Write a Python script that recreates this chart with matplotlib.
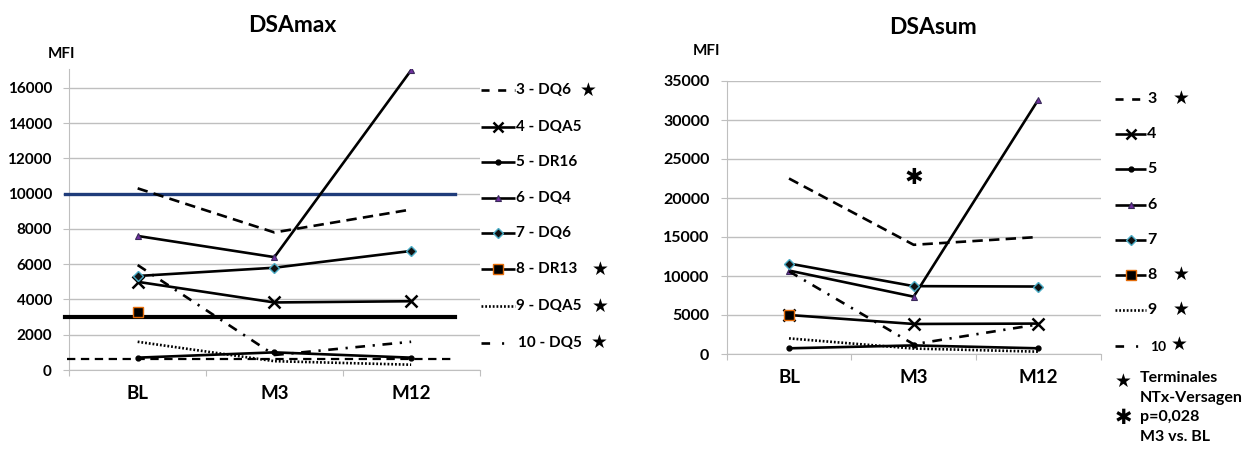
import numpy as np
import matplotlib
matplotlib.use("Agg")
import matplotlib.pyplot as plt
from matplotlib.lines import Line2D

plt.rcParams['font.family'] = ['Lato', 'DejaVu Sans']
plt.rcParams['lines.scale_dashes'] = False

# ---------------- data ----------------
categories = ["BL", "M3", "M12"]
series_ids = ["3", "4", "5", "6", "7", "8", "9", "10"]
max_labels = ["3 - DQ6", "4 - DQA5", "5 - DR16", "6 - DQ4", "7 - DQ6",
              "8 - DR13", "9 - DQA5", "10 - DQ5"]
terminal_failure = ["3", "8", "9", "10"]

max_3 = [10300, 7800, 9100]
max_4 = [5000, 3830, 3900]
max_5 = [700, 1000, 700]
max_6 = [7600, 6400, 17000]
max_7 = [5330, 5800, 6750]
max_8 = [3300, np.nan, np.nan]
max_9 = [1600, 500, 300]
max_10 = [5950, 850, 1600]

sum_3 = [22500, 14000, 15000]
sum_4 = [5000, 3850, 3900]
sum_5 = [730, 1100, 730]
sum_6 = [10700, 7350, 32600]
sum_7 = [11600, 8700, 8650]
sum_8 = [5050, np.nan, np.nan]
sum_9 = [2000, 700, 300]
sum_10 = [10600, 1250, 3800]

max_thresholds = [10000, 3000, 600]
sum_star_value = 22600

max_series = [max_3, max_4, max_5, max_6, max_7, max_8, max_9, max_10]
sum_series = [sum_3, sum_4, sum_5, sum_6, sum_7, sum_8, sum_9, sum_10]

# ---------------- styles ----------------
styles = {
    "3": dict(ls=(0, (7.5, 4.5)), marker=None),
    "4": dict(ls='-', marker='x', ms=8, mew=1.8, mfc='black', mec='black'),
    "5": dict(ls='-', marker='o', ms=3.5, mfc='black', mec='black'),
    "6": dict(ls='-', marker='^', ms=4.5, mfc='#7030A0', mec='#3A2A5A', mew=0.8),
    "7": dict(ls='-', marker='D', ms=5, mfc='#111111', mec='#4BACC6', mew=1.0),
    "8": dict(ls='-', marker='s', ms=7, mfc='black', mec='#E46C0A', mew=1.0),
    "9": dict(ls=(0, (1.3, 1.4)), marker=None),
    "10": dict(ls=(0, (7, 5.5, 1.6, 5.5)), marker=None),
}
legend_dashes = {"3": (0, (5.8, 6.2)), "10": (0, (6.2, 8.6, 1.5, 30))}

W, H = 1259, 455
fig = plt.figure(figsize=(W / 100, H / 100), dpi=100)


def fx(x):
    return x / W


def fy(y):
    return 1 - y / H


GRID = '#BFBFBF'


def setup_axes(ax, ymax, ystep, ytick_fs):
    ax.set_xlim(-0.5, 2.5)
    ax.set_ylim(0, ymax)
    yt = np.arange(0, ymax + 1, ystep)
    ax.set_yticks(yt)
    ax.set_yticklabels([str(int(v)) for v in yt], fontsize=ytick_fs,
                       fontweight='bold')
    ax.yaxis.grid(True, color=GRID, lw=1.0, zorder=0)
    ax.set_axisbelow(True)
    for s in ['top', 'right']:
        ax.spines[s].set_visible(False)
    ax.spines['left'].set_color(GRID)
    ax.spines['bottom'].set_color(GRID)
    ax.tick_params(axis='y', length=4, color=GRID, pad=8.5)
    ax.set_xticks([-0.5, 0.5, 1.5, 2.5])
    ax.set_xticklabels([])
    ax.tick_params(axis='x', which='major', length=4, color=GRID)
    ax.set_xticks([0, 1, 2], minor=True)
    ax.set_xticklabels(categories, minor=True, fontsize=13.5,
                       fontweight='bold')
    ax.tick_params(axis='x', which='minor', length=0, pad=10.5)


def draw_series(ax, data):
    x = np.arange(len(categories))
    for sid, vals in zip(series_ids, data):
        st = dict(styles[sid])
        ls = st.pop('ls')
        ax.plot(x, vals, color='black', lw=1.9, linestyle=ls, zorder=4,
                solid_capstyle='butt', **st)


# ---------------- left chart ----------------
axL = fig.add_axes([fx(69.3), fy(370), fx(479.5 - 69.3), (370 - 69.3) / H])
setup_axes(axL, 17050, 2000, 11)
thr_styles = [dict(color='#1F3C7A', lw=2.4, ls='-', x0=-0.53),
              dict(color='black', lw=3.0, ls='-', x0=-0.53),
              dict(color='black', lw=1.6, ls=(0, (6, 4)), x0=-0.52)]
for val, st in zip(max_thresholds, thr_styles):
    axL.plot([st['x0'], 2.32], [val, val], color=st['color'], lw=st['lw'],
             linestyle=st['ls'], zorder=3, clip_on=False)
draw_series(axL, max_series)

# ---------------- right chart ----------------
axR = fig.add_axes([fx(726.7), fy(354), fx(1100.6 - 726.7), (354 - 81) / H])
setup_axes(axR, 35000, 5000, 11.5)
draw_series(axR, sum_series)
axR.text(1, sum_star_value, '✱', ha='center', va='center', fontsize=16,
         family=['DejaVu Sans'], color='black')

# ---------------- titles / axis labels ----------------
fig.text(fx(292), fy(25), 'DSAmax', ha='center', va='center', fontsize=16.5,
         fontweight='bold')
fig.text(fx(933), fy(27), 'DSAsum', ha='center', va='center', fontsize=16.5,
         fontweight='bold')
fig.text(fx(61.5), fy(54), 'MFI', ha='center', va='center', fontsize=11,
         fontweight='bold')
fig.text(fx(707), fy(51), 'MFI', ha='center', va='center', fontsize=11,
         fontweight='bold')


# ---------------- legends ----------------
def legend_entry(x0, x1, y, sid):
    st = dict(styles[sid])
    ls = legend_dashes.get(sid, st.pop('ls'))
    st.pop('ls', None)
    ln = Line2D([fx(x0), fx((x0 + x1) / 2), fx(x1)], [fy(y)] * 3,
                transform=fig.transFigure, color='black', lw=1.9,
                linestyle=ls, markevery=[1], solid_capstyle='butt', **st)
    if sid == '4':
        ln.set_markersize(7)
    fig.add_artist(ln)


left_y = [90, 126.7, 161.7, 197.7, 233.3, 269.3, 306, 342.7]
left_star_x = {"3": 588, "8": 600, "9": 600, "10": 599}
for sid, lab, y in zip(series_ids, max_labels, left_y):
    legend_entry(480.7, 515, y, sid)
    tx = 518.5 if sid == '10' else 516.5
    fig.text(fx(tx), fy(y), lab, ha='left', va='center', fontsize=11,
             fontweight='bold')
    if sid in terminal_failure:
        fig.text(fx(left_star_x[sid]), fy(y), '★', ha='center', va='center',
                 fontsize=13.5, family=['DejaVu Sans'])

right_y = [99.3, 134, 169.3, 205, 240, 275, 310, 345.7]
right_star_x = {"3": 1181, "8": 1181, "9": 1181, "10": 1179}
for sid, y in zip(series_ids, right_y):
    legend_entry(1115, 1146, y, sid)
    if sid == '10':
        fig.text(fx(1150), fy(y + 1), sid, ha='left', va='center',
                 fontsize=10, fontweight='bold')
    else:
        fig.text(fx(1147.3), fy(y), sid, ha='left', va='center',
                 fontsize=11.5, fontweight='bold')
    if sid in terminal_failure:
        fig.text(fx(right_star_x[sid]), fy(y - 1), '★', ha='center',
                 va='center', fontsize=13.5, family=['DejaVu Sans'])

fig.text(fx(1123), fy(381), '★', ha='center', va='center', fontsize=13.5,
         family=['DejaVu Sans'])
fig.text(fx(1140), fy(378.3), 'Terminales', ha='left', va='center',
         fontsize=11.5, fontweight='bold')
fig.text(fx(1140), fy(398.3), 'NTx-Versagen', ha='left', va='center',
         fontsize=11.5, fontweight='bold')
fig.text(fx(1123), fy(418), '✱', ha='center', va='center', fontsize=15,
         family=['DejaVu Sans'])
fig.text(fx(1140), fy(416.7), 'p=0,028', ha='left', va='center',
         fontsize=11.5, fontweight='bold')
fig.text(fx(1140), fy(436.7), 'M3 vs. BL', ha='left', va='center',
         fontsize=11.5, fontweight='bold')

fig.savefig('out.png', dpi=100, facecolor='white')
